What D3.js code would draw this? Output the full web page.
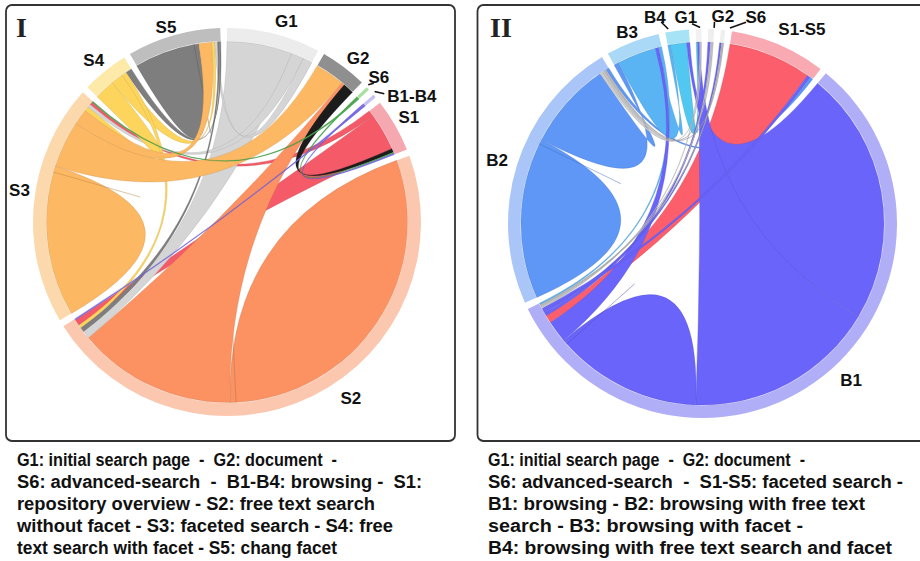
<!DOCTYPE html>
<html>
<head>
<meta charset="utf-8">
<script src="https://cdn.jsdelivr.net/npm/d3@7"></script>
<style>
    body { margin: 0; background: #fff; }
    svg { display: block; font-family: "Liberation Sans", Arial, sans-serif; }
</style>
</head>
<body>
<svg id="chart" width="920" height="561"></svg>
<script>
// ---- Panel I data: sectors and transitions ----
const sectorsI = ["G1", "G2", "S6", "B1-B4", "S1", "S2", "S3", "S4", "S5"];
const ribbonColorsI = ["#d5d5d5", "#1c1c1c", "#4caf50", "#7b6cf0", "#f45a68", "#fc9262", "#fdb863", "#fdd45c", "#7e7e7e"];
const ringColorsI = ["#ececec", "#8f8f8f", "#a9e0a0", "#c7c1f3", "#f6a8b0", "#fcc7af", "#fcd9ad", "#fde9a8", "#bebebe"];
// [from, to, width at from, width at to]
const linksI = [
    ["S2", "S2", 107, 2],
    ["S3", "S3", 46.5, 2],
    ["S5", "S5", 19.5, 1.5],
    ["S3", "G2", 15, 9.5],
    ["S2", "G2", 51, 1],
    ["S3", "S5", 5, 4],
    ["S4", "S3", 6.5, 1.5],
    ["S4", "S5", 4, 1],
    ["G1", "S2", 21, 2.5],
    ["G1", "S3", 4, 1],
    ["G1", "S5", 3, 1],
    ["S5", "S2", 0.5, 1.5],
    ["S4", "S2", 1.5, 1],
    ["S5", "S4", 0.5, 2],
    ["S1", "S3", 2, 1],
    ["S1", "S2", 12, 2],
    ["G2", "S1", 3.5, 1.2],
    ["S6", "S1", 0.5, 0.4],
    ["S6", "S3", 0.5, 0.4],
    ["B1-B4", "S1", 0.5, 0.4],
    ["B1-B4", "S2", 0.5, 0.4]
];
const drawOrderI = ["S1", "S2", "G1", "S5", "S4", "S3", "G2", "S6", "B1-B4"];

// ---- Panel II data ----
const sectorsII = ["G1", "G2", "S6", "S1-S5", "B1", "B2", "B3", "B4"];
const ribbonColorsII = ["#cfcfcf", "#c4c4c4", "#b8b8b8", "#fc5f6b", "#6a64fb", "#5e97f6", "#5ab4f4", "#52c7f1"];
const ringColorsII = ["#f1f1f1", "#eeeeee", "#efefef", "#f8a9b1", "#b1aef8", "#aac6f8", "#aad9f8", "#a7e3f7"];
const linksII = [
    ["B2", "B2", 49.8, 1.5],
    ["B2", "B3", 28, 1.5],
    ["B3", "B4", 12.5, 1],
    ["B4", "G1", 5, 0.5],
    ["B1", "B4", 81, 1],
    ["B1", "G1", 61, 0.6],
    ["B1", "B1", 46, 1.5],
    ["B1", "B3", 7, 1],
    ["S1-S5", "B1", 26.5, 2.5],
    ["B1", "G2", 1, 0.8],
    ["B1", "S6", 0.7, 0.6],
    ["B1", "S1-S5", 1, 1],
    ["G1", "B1", 0.3, 0.4],
    ["G2", "B1", 0.5, 0.5],
    ["S6", "B1", 0.4, 0.4],
    ["B3", "B1", 1, 0.5],
    ["G1", "B2", 0.3, 0.8],
    ["G2", "B2", 0.4, 0.8],
    ["S6", "B2", 0.3, 0.6],
    ["B2", "S1-S5", 1, 1]
];
const drawOrderII = ["B2", "B3", "B4", "S1-S5", "B1", "G1", "G2", "S6"];

// ---- Captions ----
const captionI = [
    "G1: initial search page  -  G2: document  -",
    "S6: advanced-search  -  B1-B4: browsing -  S1:",
    "repository overview - S2: free text search",
    "without facet - S3: faceted search - S4: free",
    "text search with facet - S5: chang facet"
];
const captionII = [
    "G1: initial search page  -  G2: document  -",
    "S6: advanced-search  -  S1-S5: faceted search -",
    "B1: browsing - B2: browsing with free text",
    "search - B3: browsing with facet -",
    "B4: browsing with free text search and facet"
];
const captionWidthsI = [320, 405, 358, 376, 320];
const captionWidthsII = [317, 415, 377, 315, 404];

const deg = Math.PI / 180;
const polar = (a, r) => [r * Math.sin(a * deg), -r * Math.cos(a * deg)];

// Lay out the link ends sector by sector, in the order the links are listed
function layoutChords(sectors, links, startDeg, padDeg) {
    const ends = new Map(sectors.map(s => [s, []]));
    links.forEach((l, i) => {
        ends.get(l[0]).push({ link: i, role: "source", v: l[2] });
        ends.get(l[1]).push({ link: i, role: "target", v: l[3] });
    });
    const grand = d3.sum(sectors, s => d3.sum(ends.get(s), e => e.v));
    const pad = padDeg * deg;
    const angle = d3.scaleLinear()
        .domain([0, grand])
        .range([startDeg * deg, startDeg * deg + 2 * Math.PI - pad * sectors.length]);

    const chords = links.map(l => ({ from: l[0] }));
    const groups = [];
    let cum = 0;
    sectors.forEach((s, i) => {
        const a0 = angle(cum) + i * pad;
        ends.get(s).forEach(e => {
            chords[e.link][e.role] = {
                startAngle: angle(cum) + i * pad,
                endAngle: angle(cum + e.v) + i * pad
            };
            cum += e.v;
        });
        groups.push({ name: s, index: i, startAngle: a0, endAngle: angle(cum) + i * pad });
    });
    return { groups, chords };
}

function drawPanel(svg, p) {
    const g = svg.append("g").attr("transform", `translate(${p.cx},${p.cy})`);
    const { groups, chords } = layoutChords(p.sectors, p.links, p.start, p.pad);
    const colorOf = name => p.ribbonColors[p.sectors.indexOf(name)];

    // Outer ring
    const arc = d3.arc().innerRadius(p.rIn).outerRadius(p.rOut);
    g.append("g").selectAll("path")
        .data(groups)
        .join("path")
        .attr("d", arc)
        .attr("fill", d => p.ringColors[d.index]);

    // Ribbons
    const ribbon = d3.ribbon().radius(p.rIn - 0.5);
    const order = d3.range(chords.length).sort((a, b) =>
        (p.drawOrder.indexOf(chords[a].from) - p.drawOrder.indexOf(chords[b].from)) || (a - b));
    g.append("g").selectAll("path")
        .data(order.map(i => chords[i]))
        .join("path")
        .attr("d", ribbon)
        .attr("fill", d => colorOf(d.from))
        .attr("stroke", d => d3.color(colorOf(d.from)).darker(0.8))
        .attr("stroke-width", 0.5)
        .attr("stroke-opacity", 0.55);

    // Sector labels
    const lab = g.append("g")
        .attr("font-weight", "bold")
        .attr("font-size", 17)
        .attr("fill", "#111");
    groups.forEach(d => {
        const mid = (d.startAngle + d.endAngle) / 2 / deg;
        const o = p.labels[d.name] || {};
        const [x, y] = polar(o.angle ?? mid, o.r ?? p.labelR);
        lab.append("text")
            .attr("x", x)
            .attr("y", y)
            .attr("dy", "0.36em")
            .attr("text-anchor", o.anchor || "middle")
            .text(d.name);
        if (o.leader) {
            const [x1, y1] = polar(o.leader[0], o.leader[1]);
            const [x2, y2] = polar(o.leader[2], o.leader[3]);
            g.append("line")
                .attr("x1", x1).attr("y1", y1)
                .attr("x2", x2).attr("y2", y2)
                .attr("stroke", "#111")
                .attr("stroke-width", 1.6);
        }
    });
}

function drawCaption(svg, lines, widths, x, y0) {
    svg.append("g")
        .attr("font-weight", "bold")
        .attr("font-size", 18)
        .attr("fill", "#111")
        .selectAll("text")
        .data(lines)
        .join("text")
        .attr("x", x)
        .attr("y", (d, i) => y0 + i * 22)
        .attr("textLength", (d, i) => widths[i])
        .attr("lengthAdjust", "spacingAndGlyphs")
        .style("white-space", "pre")
        .text(d => d);
}

const svg = d3.select("#chart");

// Panel frames
svg.append("rect")
    .attr("x", 6).attr("y", 5).attr("width", 449).attr("height", 436)
    .attr("rx", 6).attr("fill", "none").attr("stroke", "#333").attr("stroke-width", 1.8);
svg.append("rect")
    .attr("x", 477.5).attr("y", 5).attr("width", 460).attr("height", 436)
    .attr("rx", 6).attr("fill", "none").attr("stroke", "#333").attr("stroke-width", 1.8);

svg.append("text")
    .attr("x", 16).attr("y", 37)
    .attr("font-family", "'Liberation Serif', 'Times New Roman', serif")
    .attr("font-weight", "bold").attr("font-size", 28).attr("fill", "#222")
    .text("I");
svg.append("text")
    .attr("x", 490).attr("y", 37)
    .attr("font-family", "'Liberation Serif', 'Times New Roman', serif")
    .attr("font-weight", "bold").attr("font-size", 28).attr("fill", "#222")
    .text("II");

drawPanel(svg, {
    cx: 227, cy: 222, rIn: 181, rOut: 194, start: 0, pad: 2, labelR: 210,
    sectors: sectorsI, links: linksI, drawOrder: drawOrderI,
    ribbonColors: ribbonColorsI, ringColors: ringColorsI,
    labels: {
        "G1": { angle: 16.4 },
        "G2": { angle: 38.6 },
        "S6": { angle: 46.3, leader: [45.8, 197, 46.6, 202] },
        "B1-B4": { angle: 51.8, r: 204, anchor: "start", leader: [48.5, 197, 50.8, 203] },
        "S1": { angle: 60 },
        "S2": { angle: 144.8, r: 215 },
        "S3": { angle: 278.8 },
        "S4": { angle: 320.6 },
        "S5": { angle: 342.6, r: 204 }
    }
});

drawPanel(svg, {
    cx: 702.5, cy: 223.5, rIn: 182, rOut: 194.5, start: -2, pad: 2, labelR: 214,
    sectors: sectorsII, links: linksII, drawOrder: drawOrderII,
    ribbonColors: ribbonColorsII, ringColors: ringColorsII,
    labels: {
        "B4": { angle: 347, r: 212, leader: [350, 197.5, 348.4, 205.7] },
        "G1": { angle: 355.4, r: 207, leader: [359.3, 196, 357, 200] },
        "G2": { angle: 5.6, r: 208.5, leader: [3.4, 196, 3.4, 202] },
        "S6": { angle: 14.5, r: 213, leader: [8, 197.4, 12.2, 206] },
        "S1-S5": { angle: 27, r: 219 },
        "B1": { angle: 136.5, r: 216 },
        "B2": { angle: 287.2, r: 215 },
        "B3": { angle: 338.5, r: 206 }
    }
});

drawCaption(svg, captionI, captionWidthsI, 17, 466);
drawCaption(svg, captionII, captionWidthsII, 488, 466);
</script>
</body>
</html>
